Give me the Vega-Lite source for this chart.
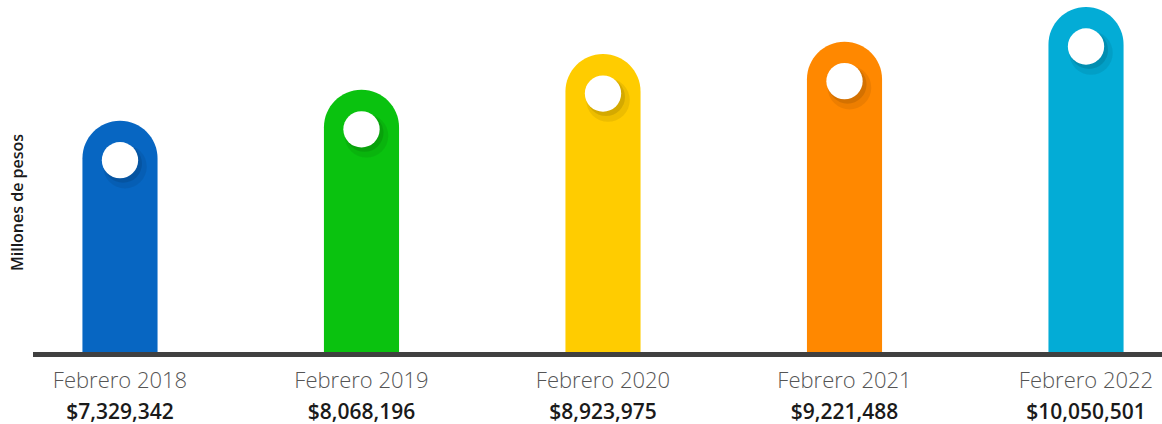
{
  "$schema": "https://vega.github.io/schema/vega-lite/v6.json",
  "autosize": {"type": "none"},
  "width": 1140,
  "height": 352,
  "padding": {"left": 33, "top": 0, "right": 0, "bottom": 72},
  "background": "#ffffff",
  "config": {"view": {"stroke": null}, "font": "Open Sans"},
  "data": {
    "values": [
      {"label": "Febrero 2018", "value": 7329342},
      {"label": "Febrero 2019", "value": 8068196},
      {"label": "Febrero 2020", "value": 8923975},
      {"label": "Febrero 2021", "value": 9221488},
      {"label": "Febrero 2022", "value": 10050501}
    ]
  },
  "layer": [
    {
      "mark": {"type": "bar", "cornerRadiusTopLeft": 37.5, "cornerRadiusTopRight": 37.5},
      "encoding": {
        "x": {
          "field": "label",
          "type": "nominal",
          "sort": null,
          "scale": {"paddingInner": 0.689, "paddingOuter": 0.2047},
          "axis": null
        },
        "y": {
          "field": "value",
          "type": "quantitative",
          "scale": {"domain": [1793000, 10218000], "zero": false, "nice": false},
          "axis": {
            "title": "Millones de pesos",
            "labels": false,
            "ticks": false,
            "domain": false,
            "grid": false,
            "titleFontSize": 16,
            "titleFontWeight": 600,
            "titleColor": "#1a1a1a",
            "titleFont": "Open Sans",
            "titleAngle": -90,
            "titleX": -15.5,
            "titleY": 202,
            "titleAlign": "center",
            "titleBaseline": "middle"
          }
        },
        "y2": {"datum": 1793000},
        "color": {
          "field": "label",
          "type": "nominal",
          "sort": null,
          "scale": {
            "domain": ["Febrero 2018", "Febrero 2019", "Febrero 2020", "Febrero 2021", "Febrero 2022"],
            "range": ["#0766C2", "#0AC20F", "#FFCC00", "#FF8800", "#03ACD6"]
          },
          "legend": null
        }
      }
    },
    {
      "mark": {"type": "point", "shape": "circle", "filled": true, "color": "#000000", "opacity": 0.07, "size": 1900, "xOffset": 5, "yOffset": 46, "strokeWidth": 0},
      "encoding": {
        "x": {"field": "label", "type": "nominal", "sort": null},
        "y": {"field": "value", "type": "quantitative"}
      }
    },
    {
      "mark": {"type": "point", "shape": "circle", "filled": true, "color": "#000000", "opacity": 0.1, "size": 1450, "xOffset": 3, "yOffset": 43, "strokeWidth": 0},
      "encoding": {
        "x": {"field": "label", "type": "nominal", "sort": null},
        "y": {"field": "value", "type": "quantitative"}
      }
    },
    {
      "mark": {"type": "point", "shape": "circle", "filled": true, "color": "#ffffff", "opacity": 1, "size": 1320, "yOffset": 39.5, "strokeWidth": 0},
      "encoding": {
        "x": {"field": "label", "type": "nominal", "sort": null},
        "y": {"field": "value", "type": "quantitative"}
      }
    },
    {
      "mark": {"type": "rule", "color": "#404040", "strokeWidth": 5, "yOffset": 2.5},
      "encoding": {"y": {"datum": 1793000, "type": "quantitative"}}
    },
    {
      "mark": {"type": "text", "font": "Open Sans", "fontSize": 22, "fontWeight": 300, "color": "#555555", "dy": 36, "baseline": "alphabetic", "align": "center"},
      "encoding": {
        "x": {"field": "label", "type": "nominal", "sort": null},
        "y": {"datum": 1793000, "type": "quantitative"},
        "text": {"field": "label", "type": "nominal"}
      }
    },
    {
      "mark": {"type": "text", "font": "Open Sans", "fontSize": 21, "fontWeight": 600, "color": "#1a1a1a", "dy": 67, "baseline": "alphabetic", "align": "center"},
      "encoding": {
        "x": {"field": "label", "type": "nominal", "sort": null},
        "y": {"datum": 1793000, "type": "quantitative"},
        "text": {"field": "value", "type": "quantitative", "format": "$,.0f"}
      }
    }
  ]
}
